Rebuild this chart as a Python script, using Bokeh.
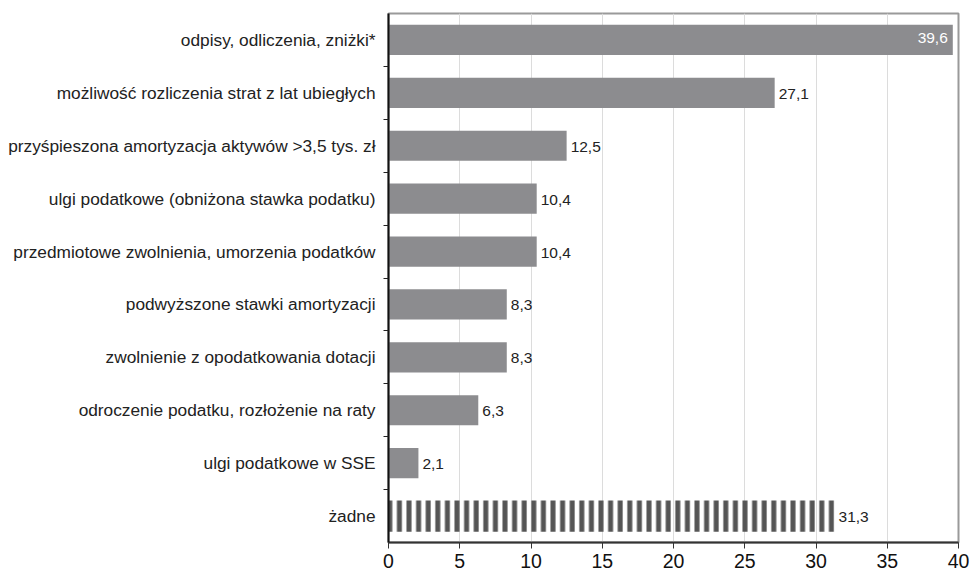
from bokeh.plotting import figure
from bokeh.models import ColumnDataSource, FixedTicker, LabelSet, Range1d
from bokeh.core.properties import value
from bokeh.embed import file_html
from bokeh.resources import INLINE

categories = [
    "odpisy, odliczenia, zniżki*",
    "możliwość rozliczenia strat z lat ubiegłych",
    "przyśpieszona amortyzacja aktywów >3,5 tys. zł",
    "ulgi podatkowe (obniżona stawka podatku)",
    "przedmiotowe zwolnienia, umorzenia podatków",
    "podwyższone stawki amortyzacji",
    "zwolnienie z opodatkowania dotacji",
    "odroczenie podatku, rozłożenie na raty",
    "ulgi podatkowe w SSE",
    "żadne",
]
values = [39.6, 27.1, 12.5, 10.4, 10.4, 8.3, 8.3, 6.3, 2.1, 31.3]
x_ticks = [0, 5, 10, 15, 20, 25, 30, 35, 40]

n = len(categories)
ypos = [n - 1 - i + 0.5 for i in range(n)]
labels = [f"{v:.1f}".replace(".", ",") for v in values]

solid = ColumnDataSource(dict(y=ypos[:-1], v=values[:-1], lab=labels[:-1]))
striped = ColumnDataSource(dict(y=ypos[-1:], v=values[-1:], lab=labels[-1:]))

FONT = "Liberation Sans"

p = figure(width=970, height=574, output_backend="svg", toolbar_location=None,
           x_range=Range1d(0, 40), y_range=Range1d(0, n),
           min_border_left=388, min_border_right=12, min_border_top=13, min_border_bottom=32)

p.hbar(y="y", left=0, right="v", height=0.57, source=solid,
       fill_color="#8c8c8f", line_color=None)
p.hbar(y="y", left=0, right="v", height=0.59, source=striped,
       fill_color="white", fill_alpha=0, line_color=None,
       hatch_pattern="vertical_line", hatch_scale=9.6, hatch_weight=5,
       hatch_color="#555555")

# value labels
out_src = ColumnDataSource(dict(y=ypos[1:], v=values[1:], lab=labels[1:]))
in_src = ColumnDataSource(dict(y=ypos[:1], v=values[:1], lab=labels[:1]))
p.add_layout(LabelSet(x="v", y="y", text="lab", source=out_src, x_offset=4, y_offset=-1,
                      text_baseline="middle", text_align="left",
                      text_font=value(FONT), text_font_size="15.5px", text_color="#222222"))
p.add_layout(LabelSet(x="v", y="y", text="lab", source=in_src, x_offset=-5, y_offset=2,
                      text_baseline="middle", text_align="right",
                      text_font=value(FONT), text_font_size="15.5px", text_color="white"))

# axes
p.xaxis.ticker = FixedTicker(ticks=x_ticks)
p.xaxis.major_label_text_font = FONT
p.xaxis.major_label_text_font_size = "19.5px"
p.xaxis.major_label_text_color = "#111111"
p.xaxis.major_tick_out = 6
p.xaxis.major_tick_in = 0
p.xaxis.minor_tick_line_color = None
p.xaxis.axis_line_color = "#333333"
p.xaxis.axis_line_width = 2
p.xaxis.major_tick_line_color = "#333333"
p.xaxis.major_label_standoff = 5

p.yaxis.ticker = FixedTicker(ticks=ypos, minor_ticks=list(range(1, n)))
p.yaxis.major_label_overrides = {y: c for y, c in zip(ypos, categories)}
p.yaxis.major_tick_out = 0
p.yaxis.major_tick_in = 0
p.yaxis.minor_tick_out = 5
p.yaxis.minor_tick_in = 0
p.yaxis.minor_tick_line_color = "#222222"
p.yaxis.axis_line_color = "#111111"
p.yaxis.axis_line_width = 2
p.yaxis.major_label_text_font = FONT
p.yaxis.major_label_text_font_size = "17.3px"
p.yaxis.major_label_text_color = "#222222"
p.yaxis.major_label_standoff = 8

p.xgrid.ticker = FixedTicker(ticks=x_ticks)
p.xgrid.grid_line_color = "#dcdcdc"
p.ygrid.grid_line_color = None

p.outline_line_color = "#9a9a9a"
p.outline_line_width = 2
p.background_fill_color = "white"
p.border_fill_color = "white"

open("out.html", "w").write(file_html(p, INLINE))
